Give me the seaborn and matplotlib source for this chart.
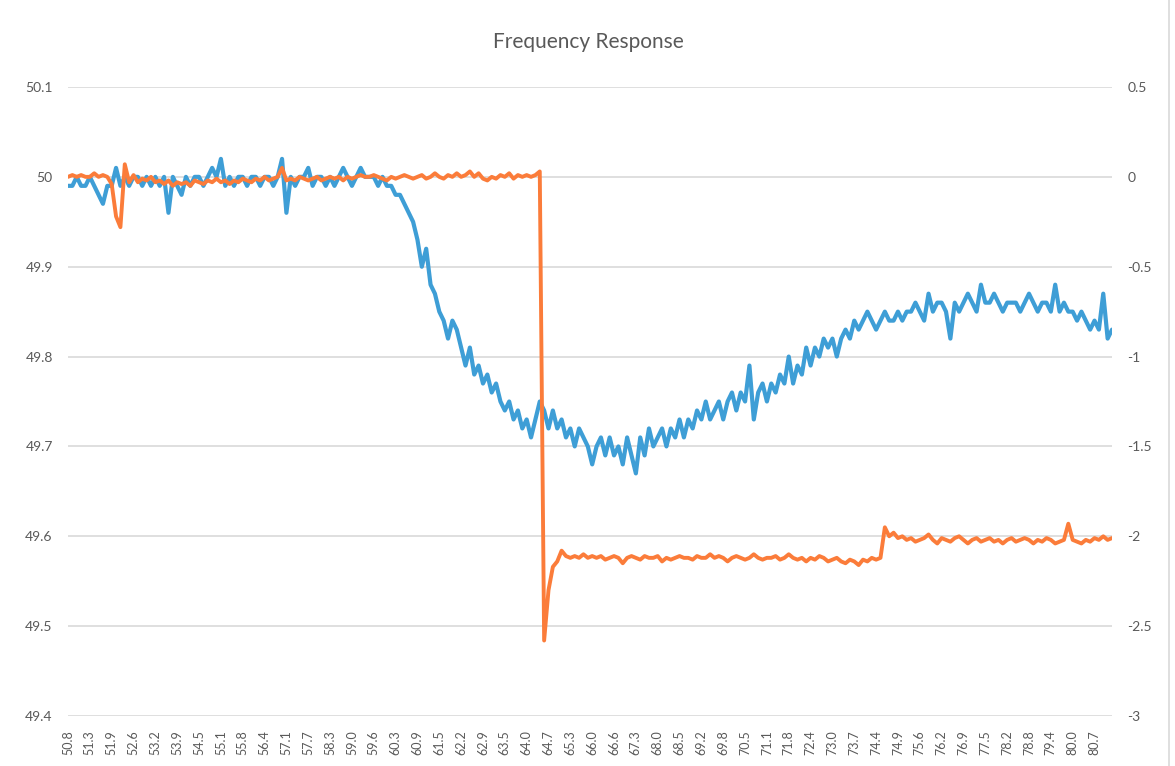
import numpy as np
import pandas as pd
import matplotlib
matplotlib.use("Agg")
import matplotlib.pyplot as plt
import seaborn as sns
from matplotlib.lines import Line2D

# ---------------- data ----------------
tick_labels = ["50.8", "51.3", "51.9", "52.6", "53.2", "53.9", "54.5", "55.1", "55.8", "56.4",
               "57.1", "57.7", "58.3", "59.0", "59.6", "60.3", "60.9", "61.5", "62.2", "62.9",
               "63.5", "64.0", "64.7", "65.3", "66.0", "66.6", "67.3", "68.0", "68.5", "69.2",
               "69.8", "70.5", "71.1", "71.8", "72.4", "73.0", "73.7", "74.4", "74.9", "75.6",
               "76.2", "76.9", "77.5", "78.2", "78.8", "79.4", "80.0", "80.7"]
points_per_label = 5

frequency = [
    49.99, 49.99, 50.00, 49.99, 49.99, 50.00, 49.99, 49.98, 49.97, 49.99,
    49.99, 50.01, 49.99, 50.00, 49.99, 50.00, 50.00, 49.99, 50.00, 49.99,
    50.00, 49.99, 50.00, 49.96, 50.00, 49.99, 49.98, 50.00, 49.99, 50.00,
    50.00, 49.99, 50.00, 50.01, 50.00, 50.02, 49.99, 50.00, 49.99, 50.00,
    50.00, 49.99, 50.00, 50.00, 49.99, 50.00, 50.00, 49.99, 50.00, 50.02,
    49.96, 50.00, 49.99, 50.00, 50.00, 50.01, 49.99, 50.00, 50.00, 49.99,
    50.00, 49.99, 50.00, 50.01, 50.00, 49.99, 50.00, 50.01, 50.00, 50.00,
    50.00, 49.99, 50.00, 49.99, 49.99, 49.98, 49.98, 49.97, 49.96, 49.95,
    49.93, 49.90, 49.92, 49.88, 49.87, 49.85, 49.84, 49.82, 49.84, 49.83,
    49.81, 49.79, 49.81, 49.78, 49.79, 49.77, 49.78, 49.76, 49.77, 49.75,
    49.74, 49.75, 49.73, 49.74, 49.72, 49.73, 49.71, 49.73, 49.75, 49.74,
    49.72, 49.74, 49.72, 49.73, 49.71, 49.72, 49.70, 49.72, 49.71, 49.70,
    49.68, 49.70, 49.71, 49.69, 49.71, 49.69, 49.70, 49.68, 49.71, 49.69,
    49.67, 49.71, 49.69, 49.72, 49.70, 49.71, 49.72, 49.70, 49.72, 49.71,
    49.73, 49.71, 49.73, 49.72, 49.74, 49.73, 49.75, 49.73, 49.74, 49.75,
    49.73, 49.75, 49.76, 49.74, 49.76, 49.75, 49.79, 49.73, 49.76, 49.77,
    49.75, 49.77, 49.76, 49.78, 49.77, 49.80, 49.77, 49.79, 49.78, 49.81,
    49.79, 49.81, 49.80, 49.82, 49.81, 49.82, 49.80, 49.82, 49.83, 49.82,
    49.84, 49.83, 49.84, 49.85, 49.84, 49.83, 49.84, 49.85, 49.84, 49.84,
    49.85, 49.84, 49.85, 49.85, 49.86, 49.85, 49.84, 49.87, 49.85, 49.86,
    49.86, 49.85, 49.82, 49.86, 49.85, 49.86, 49.87, 49.86, 49.85, 49.88,
    49.86, 49.86, 49.87, 49.86, 49.85, 49.86, 49.86, 49.86, 49.85, 49.86,
    49.87, 49.86, 49.85, 49.86, 49.86, 49.85, 49.88, 49.85, 49.86, 49.85,
    49.85, 49.84, 49.85, 49.84, 49.83, 49.84, 49.83, 49.87, 49.82, 49.83,
]

power = [
    0.00, 0.01, 0.00, 0.01, 0.00, 0.00, 0.02, 0.00, 0.01, 0.00,
    -0.04, -0.22, -0.28, 0.07, -0.03, 0.01, -0.03, -0.01, -0.02, 0.00,
    -0.03, -0.02, -0.04, -0.02, -0.05, -0.03, -0.04, -0.03, -0.05, -0.02,
    -0.03, -0.04, -0.02, -0.03, -0.01, -0.03, -0.02, -0.04, -0.02, -0.03,
    -0.01, -0.02, -0.03, -0.01, -0.02, 0.00, -0.02, -0.01, 0.00, 0.05,
    -0.02, -0.01, -0.02, 0.00, -0.01, -0.02, -0.01, 0.00, -0.02, -0.01,
    0.00, -0.01, 0.00, -0.02, 0.00, -0.01, 0.00, 0.01, 0.00, 0.00,
    0.01, 0.00, -0.01, -0.02, 0.00, -0.01, 0.00, 0.01, 0.00, -0.01,
    0.00, 0.01, -0.01, 0.00, 0.02, 0.00, -0.01, 0.01, 0.00, 0.02,
    0.00, 0.01, 0.03, 0.00, 0.02, -0.01, -0.02, 0.00, -0.01, 0.01,
    0.00, 0.02, -0.01, 0.01, 0.00, 0.01, 0.00, 0.01, 0.03, -2.58,
    -2.30, -2.17, -2.14, -2.08, -2.11, -2.12, -2.11, -2.12, -2.10, -2.12,
    -2.11, -2.12, -2.11, -2.13, -2.12, -2.11, -2.12, -2.15, -2.12, -2.11,
    -2.12, -2.13, -2.11, -2.12, -2.12, -2.11, -2.14, -2.12, -2.13, -2.12,
    -2.11, -2.12, -2.12, -2.13, -2.11, -2.12, -2.12, -2.10, -2.12, -2.11,
    -2.12, -2.14, -2.12, -2.11, -2.12, -2.13, -2.12, -2.10, -2.12, -2.13,
    -2.12, -2.12, -2.11, -2.13, -2.12, -2.10, -2.12, -2.13, -2.12, -2.14,
    -2.12, -2.13, -2.11, -2.12, -2.14, -2.13, -2.12, -2.14, -2.15, -2.13,
    -2.14, -2.16, -2.13, -2.14, -2.12, -2.13, -2.12, -1.95, -2.00, -1.98,
    -2.01, -2.00, -2.02, -2.01, -2.03, -2.02, -2.01, -1.99, -2.02, -2.04,
    -2.01, -2.02, -2.03, -2.01, -2.00, -2.02, -2.04, -2.02, -2.01, -2.03,
    -2.02, -2.01, -2.03, -2.02, -2.04, -2.02, -2.01, -2.03, -2.02, -2.01,
    -2.02, -2.04, -2.02, -2.03, -2.01, -2.02, -2.04, -2.03, -2.02, -1.93,
    -2.02, -2.03, -2.04, -2.02, -2.03, -2.01, -2.02, -2.00, -2.02, -2.01,
]

left_ticks = [49.4, 49.5, 49.6, 49.7, 49.8, 49.9, 50.0, 50.1]
left_tick_text = ["49.4", "49.5", "49.6", "49.7", "49.8", "49.9", "50", "50.1"]
right_ticks = [-3, -2.5, -2, -1.5, -1, -0.5, 0, 0.5]
right_tick_text = ["-3", "-2.5", "-2", "-1.5", "-1", "-0.5", "0", "0.5"]

# ---------------- style ----------------
sns.set_theme(style="white")
plt.rcParams["font.family"] = ["Lato", "DejaVu Sans"]

BLUE = "#3e9ed6"
ORANGE = "#fb7c3a"
TEXT = "#595959"
GRID = "#d9d9d9"

W, H = 1175, 766
fig = plt.figure(figsize=(W / 100, H / 100), dpi=100)
ax = fig.add_axes([68 / W, 1 - 716 / H, (1112 - 68) / W, (716 - 87) / H])
ax2 = ax.twinx()

df = pd.DataFrame({"idx": np.arange(len(frequency)), "frequency": frequency, "power": power})

sns.lineplot(data=df, x="idx", y="frequency", ax=ax, color=BLUE, linewidth=3.0, sort=False)
sns.lineplot(data=df, x="idx", y="power", ax=ax2, color=ORANGE, linewidth=2.8, sort=False)

ax.set_xlim(0, len(frequency) - 1)
ax.set_ylim(49.4, 50.1)
ax2.set_ylim(-3, 0.5)

ax.set_yticks(left_ticks)
ax.set_yticklabels(left_tick_text)
ax2.set_yticks(right_ticks)
ax2.set_yticklabels(right_tick_text)

ax.set_xticks(np.arange(len(tick_labels)) * points_per_label)
ax.set_xticklabels(tick_labels, rotation=90)

for a in (ax, ax2):
    for s in a.spines.values():
        s.set_visible(False)
    a.set_xlabel("")
    a.set_ylabel("")
    a.tick_params(length=0, colors=TEXT, labelsize=10)

ax.tick_params(axis="y", pad=11)
ax2.tick_params(axis="y", pad=11)
ax.tick_params(axis="x", labelsize=9, pad=10)

ax.grid(False)
ax2.grid(False)
ax.yaxis.grid(True, color=GRID, linewidth=1.2)
ax.set_axisbelow(True)

fig.text(588 / W, 1 - 42 / H, "Frequency Response", ha="center", va="center",
         fontsize=15, color=TEXT)

# light chart border on the right
fig.add_artist(Line2D([1169 / W, 1169 / W], [0, 1], color=GRID, linewidth=1.2,
                      transform=fig.transFigure))

fig.savefig("out.png", dpi=100, facecolor="white")
